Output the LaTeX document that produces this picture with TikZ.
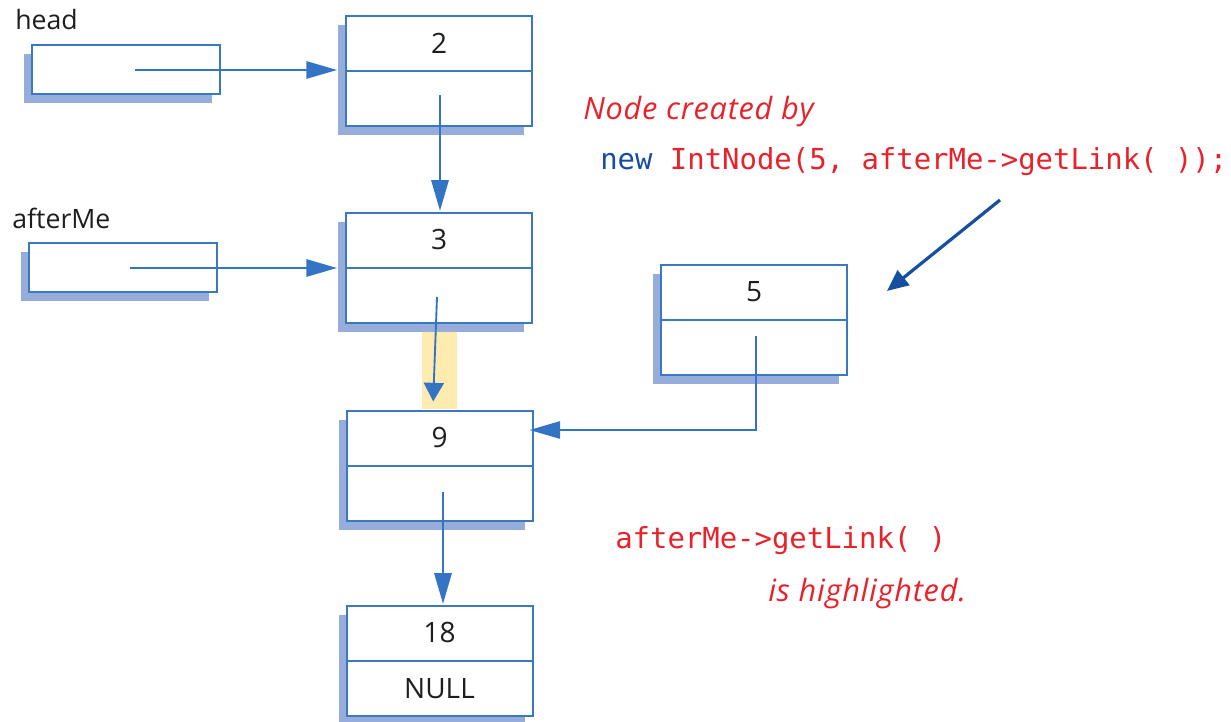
\documentclass[tikz,border=0pt]{standalone}
\usepackage{fontspec}
\setmainfont{Open Sans}
\newfontfamily\codefont{DejaVu Sans Mono}
\newfontfamily\notefont[LetterSpace=2.5]{Open Sans}
\usetikzlibrary{arrows.meta,shadows,calc}
\definecolor{boxblue}{RGB}{58,120,192}
\definecolor{shadowblue}{RGB}{150,172,218}
\definecolor{arrowblue}{RGB}{52,116,196}
\definecolor{darkarrow}{RGB}{22,78,160}
\definecolor{notered}{RGB}{232,34,42}
\definecolor{keyblue}{RGB}{24,76,164}
\definecolor{hilite}{RGB}{253,235,176}
\definecolor{inktext}{RGB}{30,30,30}
\begin{document}
\begin{tikzpicture}[x=0.75pt,y=-0.75pt,
  boxshadow/.style={drop shadow={shadow xshift=-6pt, shadow yshift=-6.75pt, fill=shadowblue, opacity=1}},
  cell/.style={draw=boxblue, line width=1.5pt, fill=white, inner sep=0pt,
    minimum width=139.5pt, minimum height=82.5pt, boxshadow},
  ptrbox/.style={cell, minimum width=141pt, minimum height=36.75pt},
  divider/.style={draw=boxblue, line width=1.5pt},
  val/.style={font=\fontsize{21}{24}\selectfont, text=inktext, inner sep=0pt},
  lbl/.style={font=\fontsize{20}{24}\selectfont, text=inktext, inner sep=0pt, anchor=west},
  code/.style={font=\codefont\fontsize{21.7}{26}\selectfont, text=notered, inner sep=0pt, anchor=west},
  note/.style={font=\notefont\itshape\fontsize{23}{27}\selectfont, text=notered, inner sep=0pt, anchor=west},
  link/.style={draw=arrowblue, line width=1.4pt, -{Triangle[length=23pt,width=13pt]}},
  shortlink/.style={link, -{Triangle[length=14pt,width=15pt]}},
  bigarrow/.style={draw=darkarrow, line width=2.4pt, -{Triangle[length=16pt,width=14pt]}}
]
\useasboundingbox (0,0) rectangle (1231,721);

% highlight behind the link that leaves node 3
\fill[hilite] (422,332) rectangle (457,409);

% pointer variables
\node[ptrbox] (headbox) at (126,69.5) {};
\node[ptrbox] (afterbox) at (123,267.5) {};
\node[lbl] (headlbl) at (15,19) {head};
\node[lbl] (afterlbl) at (12,218) {afterMe};

% list nodes: value on top, link below
\node[cell] (n2) at (439,71) {};
\node[cell] (n3) at (439,267.5) {};
\node[cell] (n9) at (439.5,465.5) {};
\node[cell] (n18) at (439.5,660.5) {};
\node[cell] (n5) at (754,320) {};
\foreach \n in {n2,n3,n9,n18,n5}
  \draw[divider] (\n.west) -- (\n.east);

\node[val] (v2) at ($(n2.center)!0.5!(n2.north)$) {2};
\node[val] (v3) at ($(n3.center)!0.5!(n3.north)$) {3};
\node[val] (v9) at ($(n9.center)!0.5!(n9.north)$) {9};
\node[val] (v18) at ($(n18.center)!0.5!(n18.north)$) {18};
\node[val] (v5) at ($(n5.center)!0.5!(n5.north)$) {5};
\node[val] (vnull) at ($(n18.center)!0.5!(n18.south)$) {NULL};

% link start points
\coordinate (headp) at (135,70);
\coordinate (afterp) at (130,268);
\coordinate (n2p) at (440,95);
\coordinate (n3p) at (437,297);
\coordinate (n9p) at (443,492);
\coordinate (n5p) at (756,336);
\coordinate (n5turn) at (756,430);

\draw[link, shorten >=6pt] (headp) -- (headp -| n2.west);
\draw[link, shorten >=6pt] (afterp) -- (afterp -| n3.west);
\draw[link, shorten >=0.5pt] (n2p) -- (n2p |- n3.north);
\draw[shortlink, shorten >=6pt] (n3p) -- ([xshift=-5pt]n9.north);
\draw[link, shorten >=0.5pt] (n9p) -- (n9p |- n18.north);
\draw[link, shorten >=-3pt] (n5p) -- (n5turn) -- (n5turn -| n9.east);

% annotation
\node[note] (note1) at (583,112) {Node created by};
\node[code] (code1) at (600,162) {{\color{keyblue}new} IntNode(5, afterMe->getLink( ));};
\coordinate (bigstart) at (1000,200);
\coordinate (bigend) at (887,291);
\draw[bigarrow] (bigstart) -- (bigend);

\node[code] (code2) at (615,541) {afterMe->getLink( )};
\node[note] (note2) at (768,594) {is highlighted.};
\end{tikzpicture}
\end{document}
